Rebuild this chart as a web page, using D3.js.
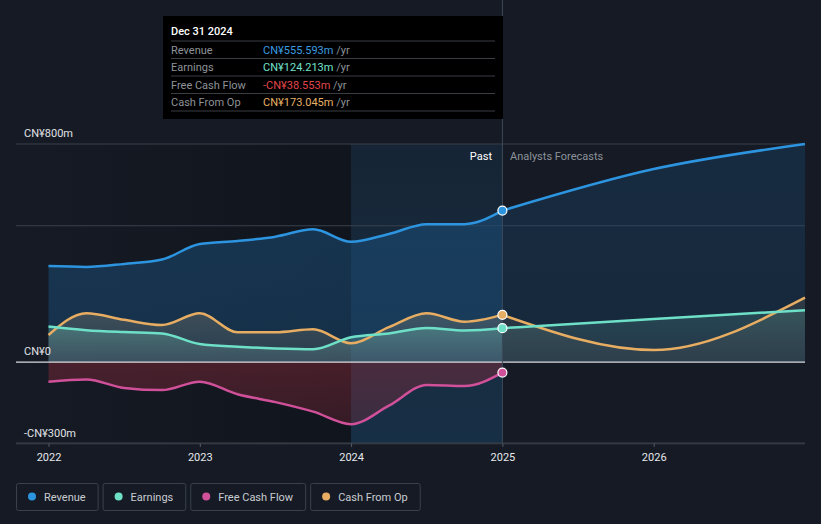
<!DOCTYPE html>
<html>
<head>
<meta charset="utf-8">
<script src="https://cdn.jsdelivr.net/npm/d3@7"></script>
<style>
  body { margin: 0; background: #151a24; }
  svg { display: block; font-family: Roboto, "Noto Sans", sans-serif; }
</style>
</head>
<body>
<div id="chart"></div>
<script>
const width = 821;
const height = 524;

// quarterly history, then analyst forecast (CN¥ m)
const pastYears = [2022, 2022.25, 2022.5, 2022.75, 2023, 2023.25, 2023.5, 2023.75, 2024, 2024.25, 2024.5, 2024.75, 2025];
const revenuePast = [352, 349, 360, 376, 433, 444, 460, 487, 441, 470, 506, 506, 555.593];
const earningsPast = [130, 117, 110, 105, 66, 56, 50, 47, 91, 105, 125, 116, 124.213];
const fcfPast = [-72, -64, -95, -103, -72, -118, -147, -182, -228, -160, -84, -88, -38.553];
const cashOpPast = [99, 179, 155, 136, 179, 109, 109, 120, 69, 128, 179, 148, 173.045];

const forecastYears = [2025, 2026, 2027];
const revenueFc = [555.593, 708, 800];
const earningsFc = [124.213, 158, 190];
const cashOpFc = [173.045, 44, 236];

const xTicks = [2022, 2023, 2024, 2025, 2026];
const yLabels = [
	{ v: 800, t: 'CN¥800m' },
	{ v: 0, t: 'CN¥0' },
	{ v: -300, t: '-CN¥300m' }
];
const gridValues = [800, 500, -300];

const colors = {
	revenue: '#2d95e0',
	earnings: '#6fe0c8',
	fcf: '#d0509a',
	cashOp: '#e7ad62'
};

const tipRows = [
	{ label: 'Revenue', value: 'CN¥555.593m', color: '#3a9be0' },
	{ label: 'Earnings', value: 'CN¥124.213m', color: '#72e3cb' },
	{ label: 'Free Cash Flow', value: '-CN¥38.553m', color: '#e0454a' },
	{ label: 'Cash From Op', value: 'CN¥173.045m', color: '#e7b066' }
];
const legendItems = [
	{ label: 'Revenue', color: '#2d95e0' },
	{ label: 'Earnings', color: '#6fe0c8' },
	{ label: 'Free Cash Flow', color: '#d0509a' },
	{ label: 'Cash From Op', color: '#e7ad62' }
];

const left = 16, right = 805, bottom = 443;

const x = d3.scaleLinear().domain([2022, 2027]).range([48.5, 805]);
const y = d3.scaleLinear().domain([-300, 800]).range([443.8, 144]);

const svg = d3.select('#chart').append('svg')
	.attr('width', width)
	.attr('height', height);

svg.append('rect').attr('width', width).attr('height', height).attr('fill', '#151a24');

const defs = svg.append('defs');
function vGrad(id, stops) {
	const g = defs.append('linearGradient').attr('id', id)
		.attr('x1', 0).attr('y1', 0).attr('x2', 0).attr('y2', 1);
	stops.forEach(s => g.append('stop').attr('offset', s[0]).attr('stop-color', s[1]).attr('stop-opacity', s[2]));
}
vGrad('revFill', [[0, '#1b4e7a', 0.55], [1, '#1b4e7a', 0.45]]);
vGrad('earnFill', [[0, '#6fe0c8', 0.28], [1, '#8a9a9a', 0.2]]);
vGrad('cashFill', [[0, '#b3a27a', 0.25], [1, '#8a8a7a', 0.15]]);
vGrad('fcfFill', [[0, '#8a2a3a', 0.45], [1, '#8a2a3a', 0.3]]);
vGrad('pastFill', [[0, '#1d5d8e', 0.16], [1, '#1d5d8e', 0.32]]);
const hg = defs.append('linearGradient').attr('id', 'darkBand')
	.attr('x1', 0).attr('y1', 0).attr('x2', 1).attr('y2', 0);
hg.append('stop').attr('offset', 0).attr('stop-color', '#0c1016').attr('stop-opacity', 0);
hg.append('stop').attr('offset', 1).attr('stop-color', '#0c1016').attr('stop-opacity', 0.5);

// darker band before the last year, highlighted last past year
svg.append('rect')
	.attr('x', left).attr('y', 144)
	.attr('width', x(2024) - left).attr('height', bottom - 144)
	.attr('fill', 'url(#darkBand)');
svg.append('rect')
	.attr('x', x(2024)).attr('y', 144)
	.attr('width', x(2025) - x(2024)).attr('height', bottom - 144)
	.attr('fill', 'url(#pastFill)');

// grid
svg.selectAll('.grid').data(gridValues).enter().append('line')
	.attr('x1', left).attr('x2', right)
	.attr('y1', d => y(d)).attr('y2', d => y(d))
	.attr('stroke', '#3a404b').attr('stroke-width', 1);

const toPts = (xs, vs) => xs.map((d, i) => [d, vs[i]]);

const line = d3.line().x(d => x(d[0])).y(d => y(d[1])).curve(d3.curveMonotoneX);
const area = d3.area().x(d => x(d[0])).y0(y(0)).y1(d => y(d[1])).curve(d3.curveMonotoneX);

const series = [
	{ key: 'revenue', fill: 'url(#revFill)', past: revenuePast, fc: revenueFc },
	{ key: 'cashOp', fill: 'url(#cashFill)', past: cashOpPast, fc: cashOpFc },
	{ key: 'earnings', fill: 'url(#earnFill)', past: earningsPast, fc: earningsFc },
	{ key: 'fcf', fill: 'url(#fcfFill)', past: fcfPast, fc: null }
];

series.forEach(s => {
	svg.append('path').attr('d', area(toPts(pastYears, s.past))).attr('fill', s.fill);
	if (s.fc) {
		svg.append('path').attr('d', area(toPts(forecastYears, s.fc)))
			.attr('fill', s.fill).attr('opacity', 0.6);
	}
});

series.forEach(s => {
	svg.append('path').attr('d', line(toPts(pastYears, s.past)))
		.attr('fill', 'none').attr('stroke', colors[s.key]).attr('stroke-width', 2.5);
	if (s.fc) {
		svg.append('path').attr('d', line(toPts(forecastYears, s.fc)))
			.attr('fill', 'none').attr('stroke', colors[s.key]).attr('stroke-width', 2.5);
	}
});

// zero line
svg.append('line')
	.attr('x1', left).attr('x2', right)
	.attr('y1', y(0)).attr('y2', y(0))
	.attr('stroke', '#d8dbe0').attr('stroke-width', 1.2);

// today marker
svg.append('line')
	.attr('x1', x(2025)).attr('x2', x(2025))
	.attr('y1', 0).attr('y2', bottom)
	.attr('stroke', '#3c4a5a').attr('stroke-width', 1);

series.forEach(s => {
	svg.append('circle')
		.attr('cx', x(2025)).attr('cy', y(s.past[s.past.length - 1]))
		.attr('r', 4.5)
		.attr('fill', colors[s.key])
		.attr('stroke', '#ffffff').attr('stroke-width', 1.2);
});

// x axis
const xAxis = svg.append('g')
	.attr('transform', `translate(0,${bottom})`)
	.call(d3.axisBottom(x).tickValues(xTicks).tickFormat(d3.format('d')).tickSize(4).tickPadding(6));
xAxis.select('.domain').remove();
xAxis.append('line').attr('x1', left).attr('x2', right).attr('stroke', '#3a404b');
xAxis.selectAll('.tick line').attr('stroke', '#555b66');
xAxis.selectAll('.tick text')
	.attr('fill', '#e6e8eb').attr('font-size', 11)
	.style('font-family', 'Roboto, sans-serif');

// y labels
svg.selectAll('.ylab').data(yLabels).enter().append('text')
	.attr('x', 24).attr('y', d => y(d.v) - 7)
	.attr('fill', '#e0e2e6').attr('font-size', 11)
	.text(d => d.t);

svg.append('text').attr('x', 492).attr('y', 160).attr('text-anchor', 'end')
	.attr('fill', '#ffffff').attr('font-size', 11).text('Past');
svg.append('text').attr('x', 510).attr('y', 160)
	.attr('fill', '#8d929a').attr('font-size', 11).text('Analysts Forecasts');

// tooltip
const tip = svg.append('g');
tip.append('rect').attr('x', 163).attr('y', 16).attr('width', 340).attr('height', 103).attr('fill', '#000000');
tip.append('text').attr('x', 171).attr('y', 35).attr('fill', '#ffffff')
	.attr('font-size', 11).attr('font-weight', 500).text('Dec 31 2024');
tipRows.forEach((r, i) => {
	const top = 41 + i * 17.5;
	tip.append('line').attr('x1', 171).attr('x2', 495).attr('y1', top).attr('y2', top).attr('stroke', '#3a3d42');
	tip.append('text').attr('x', 171).attr('y', top + 12.5).attr('fill', '#8e9298')
		.attr('font-size', 11).text(r.label);
	const t = tip.append('text').attr('x', 263).attr('y', top + 12.5).attr('font-size', 11);
	t.append('tspan').attr('fill', r.color).text(r.value);
	t.append('tspan').attr('fill', '#8e9298').text(' /yr');
});
tip.append('line').attr('x1', 171).attr('x2', 495).attr('y1', 111).attr('y2', 111).attr('stroke', '#3a3d42');

// legend
const legend = svg.append('g').attr('transform', 'translate(16,483)');
let lx = 0;
legendItems.forEach(item => {
	const g = legend.append('g').attr('transform', `translate(${lx},0)`);
	const txt = g.append('text').attr('x', 28).attr('y', 17.5)
		.attr('fill', '#c9ccd1').attr('font-size', 11).text(item.label);
	const w = txt.node().getComputedTextLength() + 40;
	g.insert('rect', 'text').attr('x', 0.5).attr('y', 0.5).attr('width', w).attr('height', 27)
		.attr('rx', 2).attr('fill', 'none').attr('stroke', '#3b414b');
	g.append('circle').attr('cx', 16).attr('cy', 13.5).attr('r', 4).attr('fill', item.color);
	lx += w + 5;
});
</script>
</body>
</html>
